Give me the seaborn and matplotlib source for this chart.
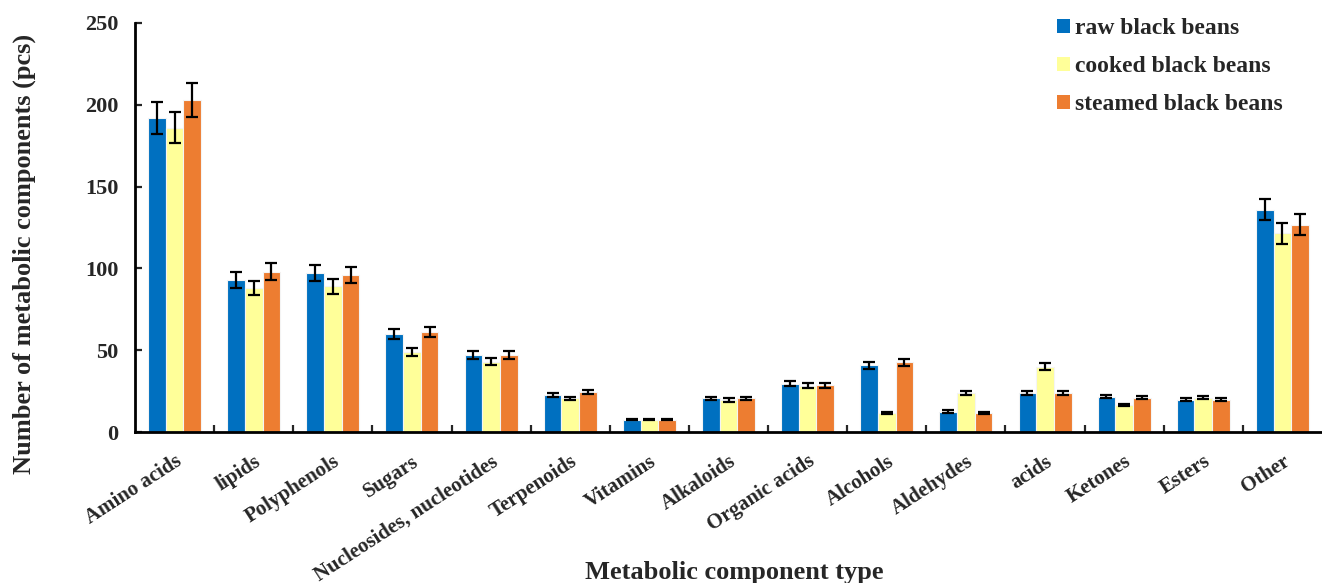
import matplotlib
matplotlib.use("Agg")
import matplotlib.pyplot as plt
import seaborn as sns
import pandas as pd
import numpy as np
from matplotlib.patches import Patch
from matplotlib.ticker import FixedLocator

# Metabolite classes and counts per processing method
categories = ["Amino acids", "lipids", "Polyphenols", "Sugars", "Nucleosides, nucleotides",
              "Terpenoids", "Vitamins", "Alkaloids", "Organic acids", "Alcohols",
              "Aldehydes", "acids", "Ketones", "Esters", "Other"]
series_names = ["raw black beans", "cooked black beans", "steamed black beans"]

raw_vals = [192, 93, 97, 60, 47, 22.5, 7.6, 20.5, 29.5, 40.8, 12.5, 23.8, 21.6, 19.8, 136]
cooked_vals = [186, 88, 89, 49, 43, 20.5, 7.6, 19.5, 28.3, 11.5, 23.6, 39.8, 16.6, 21, 121.5]
steamed_vals = [203, 98, 96, 61, 47, 24.5, 7.6, 20.5, 28.5, 42.5, 11.5, 23.8, 21, 19.8, 126.8]

raw_err = [9.8, 4.8, 4.9, 3.0, 2.3, 1.2, 0.4, 1.1, 1.5, 2.0, 0.7, 1.2, 1.1, 1.0, 6.7]
cooked_err = [9.4, 4.5, 4.7, 2.5, 2.1, 1.0, 0.4, 1.0, 1.4, 0.6, 1.2, 2.1, 0.8, 1.1, 6.3]
steamed_err = [10.3, 5.1, 5.0, 3.0, 2.3, 1.2, 0.4, 1.1, 1.4, 2.1, 0.6, 1.2, 1.0, 1.0, 6.5]

colors = ["#0070C0", "#FFFF99", "#ED7D31"]

values = [raw_vals, cooked_vals, steamed_vals]
errors = [raw_err, cooked_err, steamed_err]

df = pd.DataFrame({
    "type": categories * 3,
    "group": np.repeat(series_names, len(categories)),
    "count": raw_vals + cooked_vals + steamed_vals,
})

sns.set_style("ticks")
plt.rcParams["font.family"] = ["Liberation Serif", "DejaVu Serif"]
plt.rcParams["font.weight"] = "bold"

fig = plt.figure(figsize=(13.22, 5.83), dpi=100)
ax = fig.add_axes([135 / 1322, 1 - 432 / 583, 1 - 135 / 1322, (432 - 23) / 583])

sns.barplot(data=df, x="type", y="count", hue="group", order=categories,
            hue_order=series_names, palette=colors, width=0.67, gap=0,
            edgecolor="#f4f4f4", linewidth=0.8, saturation=1, legend=False, ax=ax)

# Error bars centred on each bar
for container, vals, errs in zip(ax.containers, values, errors):
    xs = [b.get_x() + b.get_width() / 2 for b in container]
    ax.errorbar(xs, vals, yerr=errs, fmt="none", ecolor="black",
                elinewidth=1.6, capsize=4.2, capthick=1.6, zorder=5)

ax.set_ylim(0, 250)
ax.set_xlim(-0.5, len(categories) - 0.5)
ax.set_yticks([0, 50, 100, 150, 200, 250])
ax.tick_params(axis="y", direction="in", length=5, width=1.6, pad=12, labelsize=16)
ax.tick_params(axis="x", which="major", length=0, pad=14, labelsize=15)
ax.xaxis.set_minor_locator(FixedLocator(np.arange(0.5, len(categories) - 0.5, 1)))
ax.tick_params(axis="x", which="minor", direction="in", length=5, width=1.6)

for lbl in ax.get_xticklabels():
    lbl.set_rotation(33)
    lbl.set_ha("right")
    lbl.set_rotation_mode("anchor")
    lbl.set_fontweight("bold")
for lbl in ax.get_yticklabels():
    lbl.set_fontweight("bold")

for side in ["top", "right"]:
    ax.spines[side].set_visible(False)
for side in ["left", "bottom"]:
    ax.spines[side].set_linewidth(2)
    ax.spines[side].set_color("black")

ax.set_ylabel("Number of metabolic components (pcs)", fontsize=19, fontweight="bold")
ax.set_xlabel("Metabolic component type", fontsize=19, fontweight="bold")
ax.xaxis.set_label_coords(0.505, -0.315)
ax.yaxis.set_label_coords(-0.083, 0.435)

handles = [Patch(facecolor=c, edgecolor="none") for c in colors]
fig.legend(handles, series_names, loc="upper left",
           bbox_to_anchor=(1057 / 1322, 1 - 18 / 583), frameon=False,
           prop={"family": "Liberation Serif", "weight": "bold", "size": 17},
           handlelength=0.55, handleheight=0.55, handletextpad=0.22,
           labelspacing=0.73, borderpad=0, borderaxespad=0)

fig.savefig("out.png", dpi=100)
